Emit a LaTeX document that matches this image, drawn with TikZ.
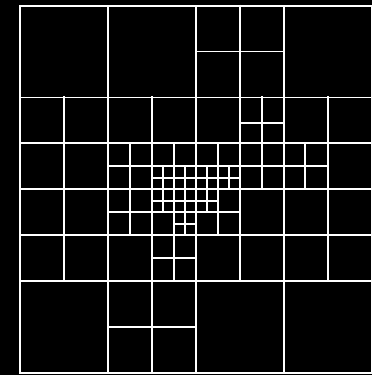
\documentclass[tikz,border=0pt]{standalone}
\begin{document}
\begin{tikzpicture}
\tikzset{
  gridline/.style={draw=white, line width=1.8pt},
  subline/.style={gridline, shorten <=-1pt, shorten >=-1pt}
}
\fill[black] (0pt,0pt) rectangle (372pt,375pt);
\useasboundingbox (0pt,0pt) rectangle (372pt,375pt);
\begin{scope}[shift={(20.3pt,369.3pt)}, x=11pt, y=-11.475pt]
  % outer frame
  \draw[gridline] (0,0) rectangle (32,32);
  % full lines
  \foreach \yy in {8,12,16,20,24} \draw[gridline] (0,\yy) -- (32,\yy);
  \foreach \xx in {8,16,24} \draw[gridline] (\xx,0) -- (\xx,32);
  % partial horizontal lines
  \draw[subline] (16,4) -- (24,4);
  \draw[subline] (8,28) -- (16,28);
  \draw[subline] (20,10.25) -- (24,10.25);
  \draw[subline] (8,14) -- (28,14);
  \draw[subline] (12,15) -- (20,15);
  \draw[subline] (12,17) -- (18,17);
  \draw[subline] (8,18) -- (20,18);
  \draw[subline] (14,19) -- (16,19);
  \draw[subline] (12,22) -- (16,22);
  % partial vertical lines
  \draw[subline] (20,0) -- (20,24);
  \draw[subline] (4,8) -- (4,24);
  \draw[subline] (12,8) -- (12,32);
  \draw[subline] (28,8) -- (28,24);
  \draw[subline] (22,8) -- (22,16);
  \draw[subline] (10,12) -- (10,20);
  \draw[subline] (14,12) -- (14,24);
  \draw[subline] (18,12) -- (18,20);
  \draw[subline] (25.85,12) -- (25.85,16);
  \draw[subline] (13,14) -- (13,18);
  \draw[subline] (15,14) -- (15,20);
  \draw[subline] (17,14) -- (17,18);
  \draw[subline] (19,14) -- (19,16);
\end{scope}
\end{tikzpicture}
\end{document}
